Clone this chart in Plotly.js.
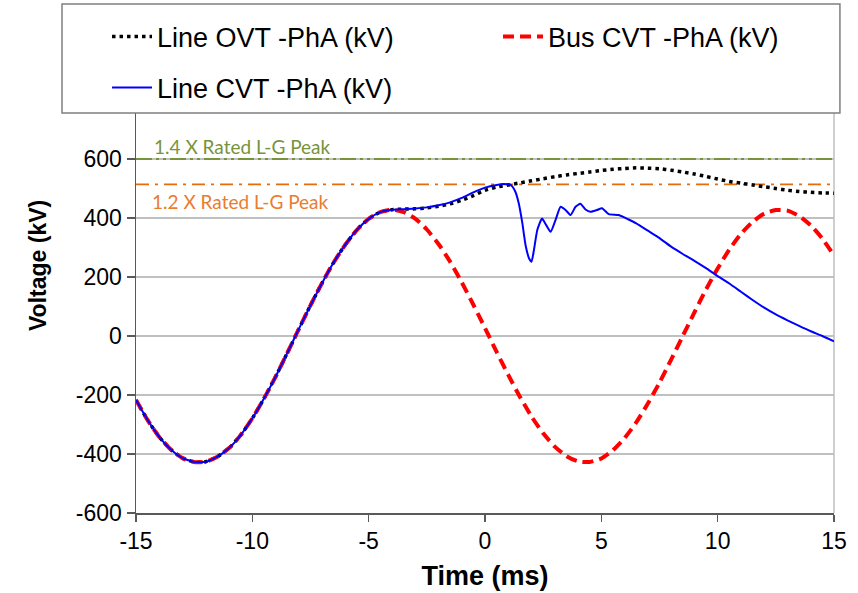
<!DOCTYPE html>
<html>
<head>
<meta charset="utf-8">
<script src="https://cdn.plot.ly/plotly-3.0.1.min.js"></script>
<style>html,body{margin:0;padding:0;background:#fff;}#chart{width:858px;height:593px;}</style>
</head>
<body>
<div id="chart"></div>
<script>
// Time axis (ms) shared by the Line OVT and Bus CVT series
const timeMs = [-15,-14.5,-14,-13.5,-13,-12.5,-12,-11.5,-11,-10.5,-10,-9.5,-9,-8.5,-8,-7.5,-7,-6.5,-6,-5.5,-5,-4.5,
  -4,-3.5,-3,-2.5,-2,-1.5,-1,-0.5,0,0.5,1,1.5,2,2.5,3,3.5,4,4.5,5,5.5,6,6.5,7,7.5,8,8.5,9,9.5,10,10.5,11,11.5,12,12.5,13,13.5,14,14.5,15];

// Bus CVT - PhA (kV)
const busCVT = [-217,-285,-342,-385,-414,-427,-426,-409,-380,-336,-279,-212,-138,-58,24,104,180,250,310,360,397,420,
  428,420,398,361,312,252,182,106,27,-54,-132,-206,-273,-330,-375,-407,-425,-427,-415,-387,-346,-293,-229,-158,-80,0,80,158,229,293,346,387,415,427,425,407,375,330,273];

// Line OVT - PhA (kV)
const lineOVT = [-217,-285,-342,-385,-414,-427,-426,-409,-380,-336,-279,-212,-138,-58,24,104,180,250,310,360,397,420,
  428,430,431,434,440,448,460,476,494,505,512,519,526,533,540,546,551,556,561,565,568,570,569,567,562,556,549,541,532,524,518,512,506,500,494,490,487,485,484];

// Line CVT - PhA (kV) with its own time samples
const cvtTime = [-15,-14.5,-14,-13.5,-13,-12.5,-12,-11.5,-11,-10.5,-10,-9.5,-9,-8.5,-8,-7.5,-7,-6.5,-6,-5.5,-5,-4.5,
  -4,-3.5,-3,-2.5,-2,-1.5,-1,-0.5,0,0.5,0.8,1.1,1.3,1.45,1.6,1.75,1.9,2.0,2.1,2.25,2.45,2.63,2.82,3.03,3.25,3.46,3.68,3.89,4.1,4.32,
  4.53,4.81,5.03,5.32,5.75,6.17,6.5,7,7.5,8,8.5,9,9.5,10,10.5,11,11.5,12,12.5,13,13.5,14,14.5,15];
const lineCVT = [-217,-285,-342,-385,-414,-427,-426,-409,-380,-336,-279,-212,-138,-58,24,104,180,250,310,360,397,420,
  428,430,432,436,443,453,468,487,503,512,515,512,490,450,385,305,262,252,290,360,398,376,353,393,438,427,410,438,448,429,
  421,427,433,413,410,395,382,357,332,303,278,255,230,203,178,150,122,96,73,53,34,16,0,-18];

// Reference levels
const refX = [-15, 15];
const ref14 = [600, 600];
const ref12 = [514, 514];
const ref14Label = '1.4 X Rated L-G Peak';
const ref12Label = '1.2 X Rated L-G Peak';

// Axis ticks
const xTicks = [-15,-10,-5,0,5,10,15];
const xTickLabels = ['-15','-10','-5','0','5','10','15'];
const yTicks = [-600,-400,-200,0,200,400,600];
const yTickLabels = ['-600','-400','-200','0','200','400','600'];

const FONT = 'Liberation Sans, Arial, sans-serif';

const traces = [
  {x: refX, y: ref14, mode:'lines', showlegend:false, hoverinfo:'skip',
   line:{color:'#77933C', width:2, dash:'16px,4px,3px,4px,3px,4px'}},
  {x: refX, y: ref12, mode:'lines', showlegend:false, hoverinfo:'skip',
   line:{color:'#E46C0A', width:1.8, dash:'13px,6px,3px,6px'}},
  {x: timeMs, y: lineOVT, mode:'lines', name:'Line OVT -PhA (kV)', legend:'legend',
   line:{color:'#000000', width:3.5, dash:'3.5px,4px', shape:'spline', smoothing:0.6}},
  {x: timeMs, y: busCVT, mode:'lines', name:'Bus CVT -PhA (kV)', legend:'legend2',
   line:{color:'#FF0000', width:4, dash:'11px,6px', shape:'spline', smoothing:0.6}},
  {x: cvtTime, y: lineCVT, mode:'lines', name:'Line CVT -PhA (kV)', legend:'legend3',
   line:{color:'#0000FF', width:2, shape:'spline', smoothing:0.5}}
];

const legendBase = {bgcolor:'rgba(0,0,0,0)', borderwidth:0, itemwidth:40,
  font:{family:FONT, size:27, color:'#000'}, xanchor:'left', yanchor:'middle'};

const layout = {
  width:858, height:593,
  margin:{l:136, r:24, t:100, b:80},
  paper_bgcolor:'#ffffff', plot_bgcolor:'#ffffff',
  font:{family:FONT, color:'#000'},
  xaxis:{range:[-15,15], tickmode:'array', tickvals:xTicks, ticktext:xTickLabels, ticks:'outside', ticklen:7, tickwidth:1.5,
    tickcolor:'#595959', showline:true, linecolor:'#595959', linewidth:1.5, showgrid:false, zeroline:false,
    tickfont:{family:FONT, size:23, color:'#000'},
    title:{text:'Time (ms)', font:{family:FONT, size:27, weight:'bold', color:'#000'}, standoff:13}},
  yaxis:{range:[-600,800], tickmode:'array', tickvals:yTicks, ticktext:yTickLabels, ticks:'outside', ticklen:8, tickwidth:1.5,
    tickcolor:'#595959', showline:true, linecolor:'#595959', linewidth:1.5, showgrid:true,
    gridcolor:'#C0C0C0', gridwidth:1.5, zeroline:false,
    tickfont:{family:FONT, size:23, color:'#000'}},
  legend:Object.assign({}, legendBase, {x:-0.0415, y:1.1525}),
  legend2:Object.assign({}, legendBase, {x:0.5186, y:1.1525}),
  legend3:Object.assign({}, legendBase, {x:-0.0415, y:1.029}),
  shapes:[
    {type:'line', xref:'paper', yref:'paper', x0:1, x1:1, y0:0, y1:1, layer:'below',
     line:{color:'#BFBFBF', width:1.5}},
    {type:'rect', xref:'paper', yref:'paper', x0:-0.106, x1:1.0085, y0:0.9685, y1:1.2324, layer:'above',
     fillcolor:'#ffffff', line:{color:'#7F7F7F', width:1.5}}
  ],
  annotations:[
    {x:-14.3, y:ref14[0], xref:'x', yref:'y', text:ref14Label, showarrow:false, xanchor:'left', yanchor:'bottom',
     yshift:-1, font:{family:'Lato, sans-serif', size:19, color:'#77933C'}},
    {x:-14.4, y:ref12[0], xref:'x', yref:'y', text:ref12Label, showarrow:false, xanchor:'left', yanchor:'top',
     yshift:-4, font:{family:'Lato, sans-serif', size:19, color:'#E97C2E'}},
    {x:-0.1404, y:0.598, xref:'paper', yref:'paper', text:'Voltage (kV)', showarrow:false, textangle:-90,
     xanchor:'center', yanchor:'middle', font:{family:FONT, size:23, weight:'bold', color:'#000'}}
  ]
};

Plotly.newPlot('chart', traces, layout, {staticPlot:true, displayModeBar:false});
</script>
</body>
</html>
